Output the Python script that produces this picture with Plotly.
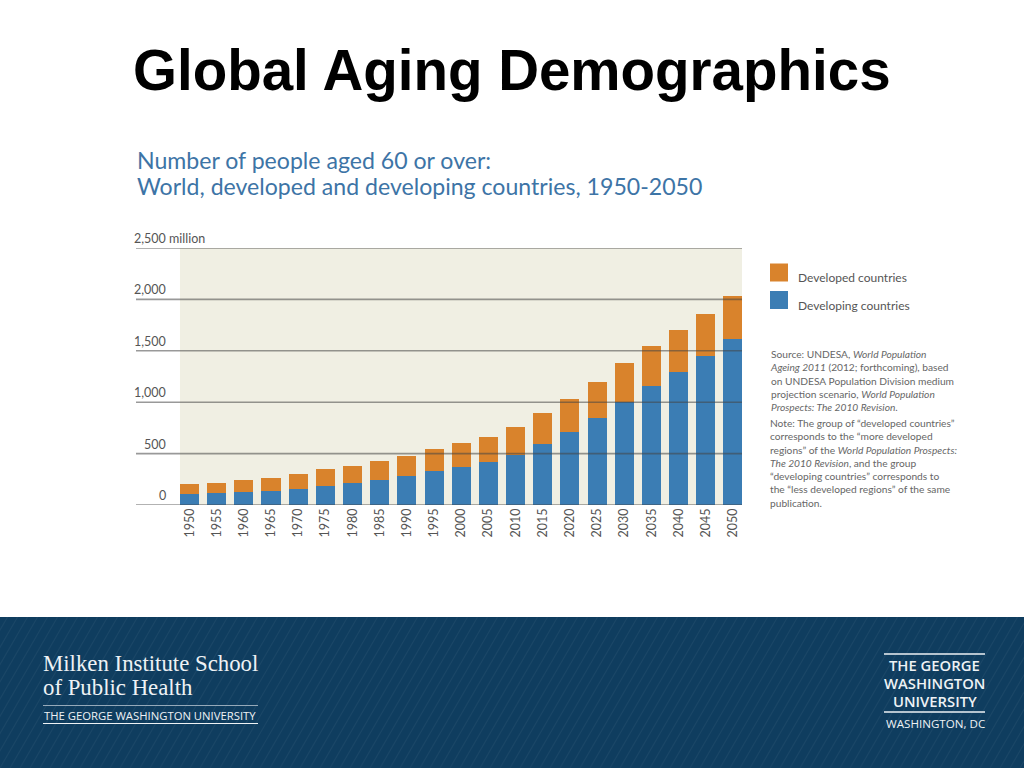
import plotly.graph_objects as go

# ---------------- data (millions of people aged 60+) ----------------
years = [1950, 1955, 1960, 1965, 1970, 1975, 1980, 1985, 1990, 1995, 2000,
         2005, 2010, 2015, 2020, 2025, 2030, 2035, 2040, 2045, 2050]
developing = [104, 114, 123, 133, 156, 182, 214, 247, 282, 331, 373,
              422, 487, 594, 711, 847, 1000, 1162, 1295, 1448, 1610]
developed = [97, 103, 117, 133, 149, 169, 169, 185, 199, 214, 234,
             244, 269, 299, 325, 348, 377, 387, 403, 409, 419]
y_ticks = [0, 500, 1000, 1500, 2000, 2500]
y_tick_labels = ["0", "500", "1,000", "1,500", "2,000", "2,500"]
x_tick_labels = [str(y) for y in years]
series_names = ["Developing countries", "Developed countries"]

W, H = 1024, 768
ORANGE = "#d9832c"
BLUE = "#3b7db4"
BEIGE = "#f0efe3"
GRID = "rgba(70,70,70,0.55)"
LABEL = "#555555"
NOTE = "#666666"
NAVY = "#0f3d5f"


def px(x):
    return x / W


def py(y):
    return 1 - y / H


fig = go.Figure()
fig.add_trace(go.Bar(x=years, y=developing, name=series_names[0],
                     marker=dict(color=BLUE, line=dict(width=0)),
                     width=3.5, showlegend=False))
fig.add_trace(go.Bar(x=years, y=developed, name=series_names[1],
                     marker=dict(color=ORANGE, line=dict(width=0)),
                     width=3.5, showlegend=False))

x_left, x_right = 1940.16, 2051.66

shapes = []
# beige plot background
shapes.append(dict(type="rect", xref="x", yref="y", x0=1948.25, x1=x_right,
                   y0=0, y1=2500, fillcolor=BEIGE, line=dict(width=0),
                   layer="below"))
# gridlines drawn above bars
for v in y_ticks:
    shapes.append(dict(type="line", xref="x domain", yref="y", x0=0, x1=1,
                       y0=v, y1=v, line=dict(color=GRID, width=1.6),
                       layer="above"))

annotations = []
for v, t in zip(y_ticks, y_tick_labels):
    annotations.append(dict(xref="paper", yref="y", x=px(168), y=v,
                            xanchor="right", yanchor="bottom", yshift=0,
                            text=t, showarrow=False,
                            font=dict(family="Lato", size=12.5, color=LABEL)))
annotations.append(dict(xref="paper", yref="y", x=px(166.5), y=y_ticks[-1],
                        xanchor="left", yanchor="bottom", yshift=0,
                        text="million", showarrow=False,
                        font=dict(family="Lato", size=12.5, color=LABEL)))

# slide title
annotations.append(dict(xref="paper", yref="paper", x=px(512), y=py(70),
                        xanchor="center", yanchor="middle",
                        text="<b>Global Aging Demographics</b>", showarrow=False,
                        font=dict(family="Liberation Sans", size=56.5,
                                  color="#000000")))
# chart title (two lines)
for txt, yc in [("Number of people aged 60 or over:", 160),
                ("World, developed and developing countries, 1950-2050", 186)]:
    annotations.append(dict(xref="paper", yref="paper", x=px(134.5), y=py(yc),
                            xanchor="left", yanchor="middle", align="left",
                            text=txt, showarrow=False,
                            font=dict(family="Lato", size=23.1,
                                      color="#3d74a6")))

# legend (manual)
legend_items = [(series_names[1], ORANGE, 263.5), (series_names[0], BLUE, 291)]
for name, col, ytop in legend_items:
    shapes.append(dict(type="rect", xref="paper", yref="paper",
                       x0=px(770), x1=px(788), y0=py(ytop + 18), y1=py(ytop),
                       fillcolor=col, line=dict(width=0)))
    annotations.append(dict(xref="paper", yref="paper", x=px(796),
                            y=py(ytop + 14), xanchor="left", yanchor="middle",
                            text=name, showarrow=False,
                            font=dict(family="Lato", size=12, color=LABEL)))

source_txt = ("Source: UNDESA, <i>World Population</i><br>"
              "<i>Ageing 2011</i> (2012; forthcoming), based<br>"
              "on UNDESA Population Division medium<br>"
              "projection scenario, <i>World Population</i><br>"
              "<i>Prospects: The 2010 Revision</i>.")
note_txt = ("Note: The group of \u201cdeveloped countries\u201d<br>"
            "corresponds to the \u201cmore developed<br>"
            "regions\u201d of the <i>World Population Prospects:</i><br>"
            "<i>The 2010 Revision</i>, and the group<br>"
            "\u201cdeveloping countries\u201d corresponds to<br>"
            "the \u201cless developed regions\u201d of the same<br>"
            "publication.")
annotations.append(dict(xref="paper", yref="paper", x=px(768), y=py(345.5),
                        xanchor="left", yanchor="top", align="left",
                        text=source_txt, showarrow=False,
                        font=dict(family="Lato", size=10.2, color=NOTE)))
annotations.append(dict(xref="paper", yref="paper", x=px(768), y=py(414.5),
                        xanchor="left", yanchor="top", align="left",
                        text=note_txt, showarrow=False,
                        font=dict(family="Lato", size=10.2, color=NOTE)))

# footer band
shapes.append(dict(type="rect", xref="paper", yref="paper", x0=0, x1=1,
                   y0=0, y1=py(617), fillcolor=NAVY, line=dict(width=0),
                   layer="below"))
band_h = H - 617
for k in range(-12, 110):
    x0 = k * 10
    shapes.append(dict(type="line", xref="paper", yref="paper",
                       x0=px(x0), y0=py(H), x1=px(x0 + band_h * 0.58), y1=py(617),
                       line=dict(color="rgba(255,255,255,0.05)", width=1.2),
                       layer="below"))

WHITE = "#eef2f5"
for txt, yc in [("Milken Institute School", 663), ("of Public Health", 687)]:
    annotations.append(dict(xref="paper", yref="paper", x=px(41), y=py(yc),
                            xanchor="left", yanchor="middle", align="left",
                            text=txt, showarrow=False,
                            font=dict(family="Liberation Serif", size=22.8,
                                      color=WHITE)))
shapes.append(dict(type="line", xref="paper", yref="paper", x0=px(43),
                   x1=px(258), y0=py(705.5), y1=py(705.5),
                   line=dict(color="rgba(238,242,245,0.6)", width=1)))
annotations.append(dict(xref="paper", yref="paper", x=px(150), y=py(715),
                        xanchor="center", yanchor="middle",
                        text="THE GEORGE WASHINGTON UNIVERSITY",
                        showarrow=False,
                        font=dict(family="Open Sans", size=11.3, color=WHITE)))
shapes.append(dict(type="line", xref="paper", yref="paper", x0=px(43),
                   x1=px(258), y0=py(723.5), y1=py(723.5),
                   line=dict(color=WHITE, width=1)))

shapes.append(dict(type="line", xref="paper", yref="paper", x0=px(884),
                   x1=px(985), y0=py(654), y1=py(654),
                   line=dict(color=WHITE, width=1.5)))
for txt, yc in [("THE GEORGE", 665), ("WASHINGTON", 682.5), ("UNIVERSITY", 700.5)]:
    annotations.append(dict(xref="paper", yref="paper", x=px(934.5), y=py(yc),
                            xanchor="center", yanchor="middle", text=txt,
                            showarrow=False,
                            font=dict(family="Open Sans", size=14.8,
                                      color=WHITE, weight=600)))
shapes.append(dict(type="line", xref="paper", yref="paper", x0=px(884),
                   x1=px(985), y0=py(712), y1=py(712),
                   line=dict(color=WHITE, width=1.5)))
annotations.append(dict(xref="paper", yref="paper", x=px(935), y=py(723.5),
                        xanchor="center", yanchor="middle",
                        text="WASHINGTON, DC", showarrow=False,
                        font=dict(family="Open Sans", size=11.6, color=WHITE)))

fig.update_layout(
    width=W, height=H, autosize=False,
    margin=dict(l=0, r=0, t=0, b=0),
    paper_bgcolor="#ffffff", plot_bgcolor="rgba(0,0,0,0)",
    barmode="stack",
    showlegend=False,
    xaxis=dict(domain=[px(136), px(742)], range=[x_left, x_right],
               tickmode="array", tickvals=years, ticktext=x_tick_labels,
               tickangle=-90, showgrid=False, zeroline=False, showline=False,
               ticks="", tickfont=dict(family="Lato", size=12.5, color=LABEL),
               fixedrange=True),
    yaxis=dict(domain=[py(505), py(248)], range=[0, 2500],
               showgrid=False, zeroline=False, showline=False,
               showticklabels=False, ticks="", fixedrange=True),
    shapes=shapes,
    annotations=annotations,
)

fig.write_html("out.html", config={"displayModeBar": False},
               post_script="document.body.style.margin='0';")
